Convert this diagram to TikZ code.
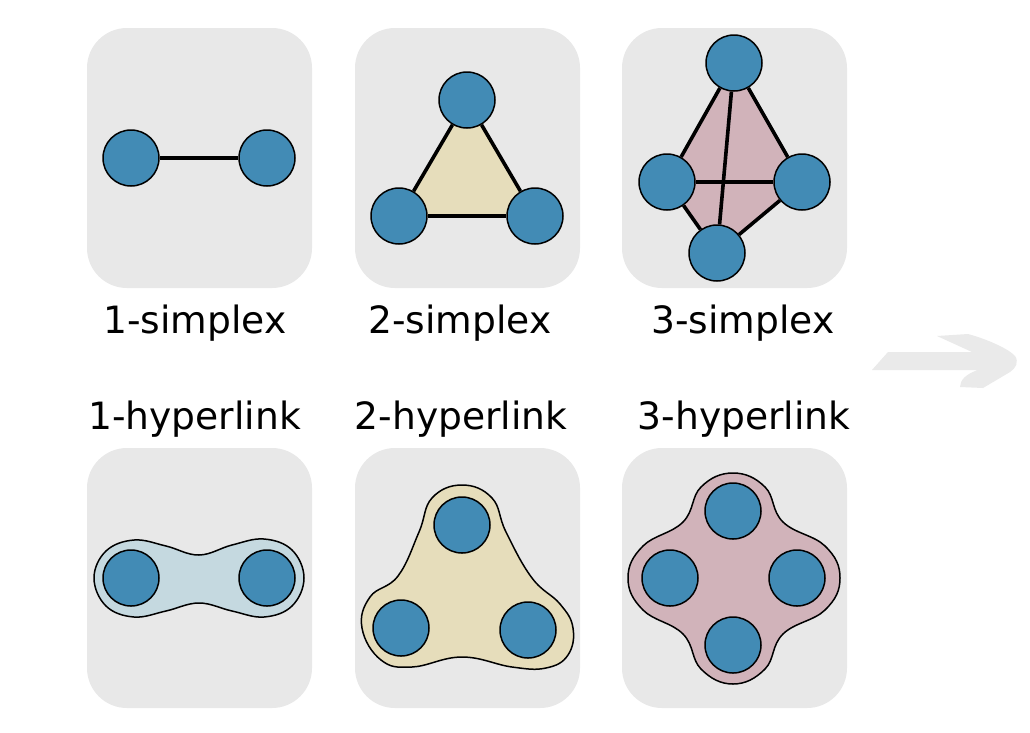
\documentclass[tikz,border=0pt]{standalone}
\usepackage{fontspec}
\setmainfont{DejaVu Sans}
\pgfdeclarelayer{bg}
\pgfsetlayers{bg,main}
\definecolor{boxgray}{HTML}{E8E8E8}
\definecolor{nodeblue}{HTML}{428BB5}
\definecolor{beige}{HTML}{E6DDBB}
\definecolor{pinkish}{HTML}{D1B3BA}
\definecolor{lightblue}{HTML}{C5D9E0}
\definecolor{arrowgray}{HTML}{EAEAEA}
\tikzset{
  vtx/.style={circle, minimum size=56pt, inner sep=0pt, fill=nodeblue, draw=black, line width=1.5pt},
  edgeline/.style={line width=3.6pt, black},
  panel/.style={fill=boxgray, rounded corners=40pt},
  blob/.style={draw=black, line width=1.5pt},
  lab/.style={anchor=base, inner sep=0pt, font=\fontsize{37.6}{45}\selectfont}
}
\begin{document}
\begin{tikzpicture}[x=1pt,y=-1pt]
\useasboundingbox (0,0) rectangle (1030,732);
% ---------- panels ----------
\begin{pgfonlayer}{bg}
\fill[white] (0,0) rectangle (1030,732);
\fill[panel] (87,28) rectangle (312,288);
\fill[panel] (355,28) rectangle (580,288);
\fill[panel] (622,28) rectangle (847,288);
\fill[panel] (87,448) rectangle (312,708);
\fill[panel] (355,448) rectangle (580,708);
\fill[panel] (622,448) rectangle (847,708);
\end{pgfonlayer}
% ---------- 1-simplex ----------
\node[vtx] (a1) at (131,158) {};
\node[vtx] (a2) at (267,158) {};
\draw[edgeline] (a1) -- (a2);
% ---------- 2-simplex ----------
\node[vtx] (b1) at (467,100) {};
\node[vtx] (b2) at (399,216) {};
\node[vtx] (b3) at (535,216) {};
\begin{pgfonlayer}{bg}
\fill[beige] (b1.center) -- (b2.center) -- (b3.center) -- cycle;
\end{pgfonlayer}
\draw[edgeline] (b1) -- (b2);
\draw[edgeline] (b2) -- (b3);
\draw[edgeline] (b3) -- (b1);
% ---------- 3-simplex ----------
\node[vtx] (c1) at (734,63) {};
\node[vtx] (c2) at (667,182) {};
\node[vtx] (c3) at (802,182) {};
\node[vtx] (c4) at (717,253) {};
\begin{pgfonlayer}{bg}
\fill[pinkish] (c1.center) -- (c3.center) -- (c4.center) -- (c2.center) -- cycle;
\end{pgfonlayer}
\draw[edgeline] (c1) -- (c2);
\draw[edgeline] (c1) -- (c3);
\draw[edgeline] (c2) -- (c4);
\draw[edgeline] (c3) -- (c4);
\draw[edgeline] (c2) -- (c3);
\draw[edgeline] (c1) -- (c4);
% ---------- labels ----------
\node[lab] (l1) at (195,333) {1-simplex};
\node[lab] (l2) at (460,333) {2-simplex};
\node[lab] (l3) at (743,333) {3-simplex};
\node[lab] (h1) at (194.5,429) {1-hyperlink};
\node[lab] (h2) at (461,429) {2-hyperlink};
\node[lab] (h3) at (744,429) {3-hyperlink};
% ---------- 1-hyperlink ----------
\begin{pgfonlayer}{bg}
\filldraw[blob, fill=lightblue] plot[smooth cycle, tension=0.65] coordinates {
 (94,578) (106,551) (134,540) (166,546) (199,555) (232,545) (264,539) (292,550) (304,578)
 (292,606) (264,617) (232,611) (199,603) (166,611) (134,617) (106,606)};
\end{pgfonlayer}
\node[vtx] (d1) at (131,578) {};
\node[vtx] (d2) at (267,578) {};
% ---------- 2-hyperlink ----------
\begin{pgfonlayer}{bg}
\filldraw[blob, fill=beige] plot[smooth cycle, tension=0.7] coordinates {
 (462,485) (432,498) (419,532) (398,576) (370,597) (362,628) (381,660) (412,667)
 (462,657) (512,667) (546,668) (568,655) (573,628) (560,604) (532,578) (506,532)
 (492,498)};
\end{pgfonlayer}
\node[vtx] (e1) at (462,525) {};
\node[vtx] (e2) at (401,628) {};
\node[vtx] (e3) at (528,630) {};
% ---------- 3-hyperlink ----------
\begin{pgfonlayer}{bg}
\filldraw[blob, fill=pinkish] plot[smooth cycle, tension=0.7] coordinates {
 (733,473) (701,487) (683,522) (643,546) (628,578) (643,610) (683,634)
 (701,669) (733,684) (765,669) (783,634) (825,610) (840,578) (825,546)
 (783,522) (765,487)};
\end{pgfonlayer}
\node[vtx] (f1) at (733,511) {};
\node[vtx] (f2) at (670,578) {};
\node[vtx] (f3) at (797,578) {};
\node[vtx] (f4) at (733,645) {};
% ---------- arrow ----------
\fill[arrowgray] (872,370) -- (888,352) -- (972,352) -- (937,336) -- (968,334)
  .. controls (990,340) and (1010,350) .. (1015,356)
  .. controls (1019,362) and (1016,368) .. (1010,372)
  -- (983,388) -- (960,387) .. controls (960,380) and (966,374) .. (978,370) -- cycle;
\end{tikzpicture}
\end{document}
